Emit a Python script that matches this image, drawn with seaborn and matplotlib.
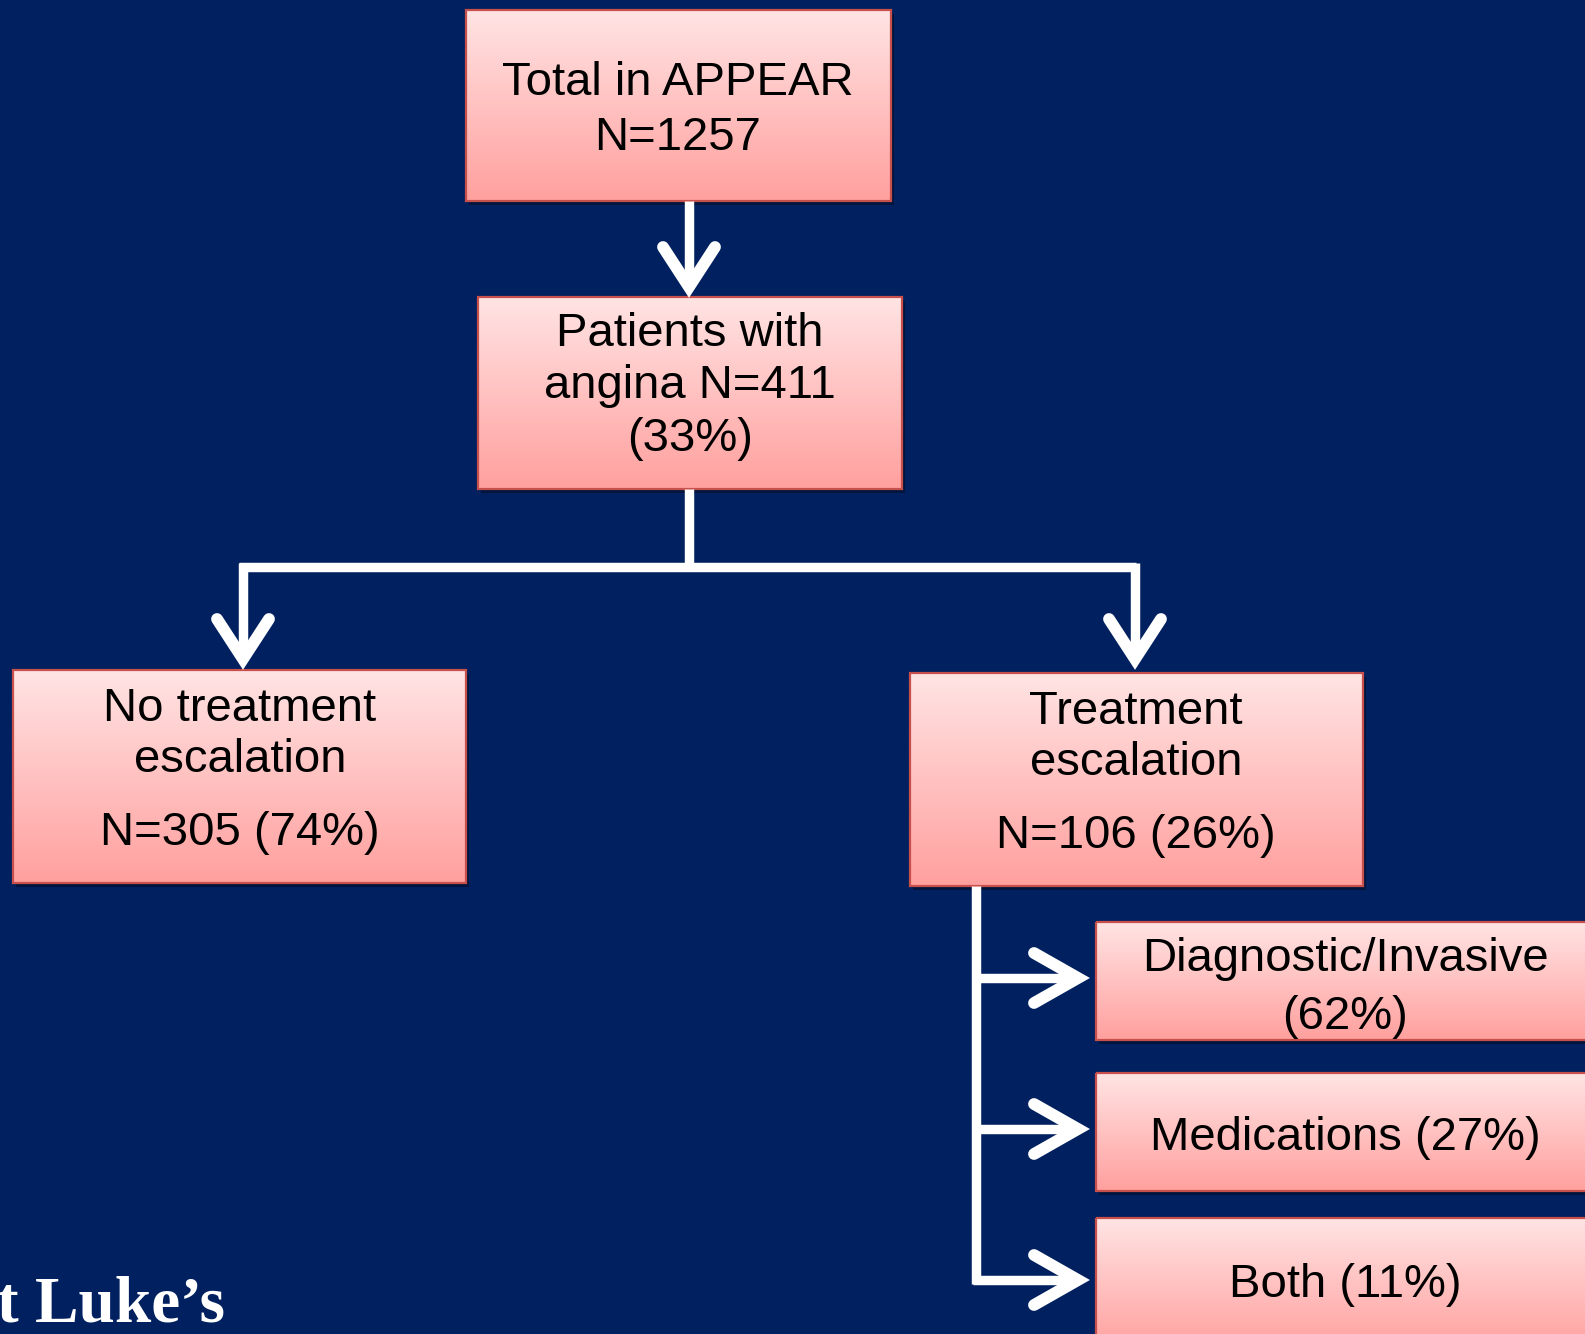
import numpy as np
import matplotlib
matplotlib.use("Agg")
import matplotlib.pyplot as plt
from matplotlib.patches import Rectangle
import seaborn as sns

sns.set_theme(style="white")
plt.rcParams["font.family"] = ["Liberation Sans", "DejaVu Sans"]

# Flow stages: label lines for each box
stage_names = ["total", "angina", "no_escalation", "escalation",
               "diagnostic", "medications", "both"]
stage_lines = [
    ["Total in APPEAR", "N=1257"],
    ["Patients with", "angina N=411", "(33%)"],
    ["No treatment", "escalation", "N=305 (74%)"],
    ["Treatment", "escalation", "N=106 (26%)"],
    ["Diagnostic/Invasive", "(62%)"],
    ["Medications (27%)"],
    ["Both (11%)"],
]

# Box geometry in canvas pixels: left, top, right, bottom
box_left = [466, 478, 13, 910, 1096, 1096, 1096]
box_top = [10, 297, 670, 673, 922, 1073, 1218]
box_right = [891, 902, 466, 1363, 1600, 1600, 1600]
box_bottom = [201, 489, 883, 886, 1040, 1191, 1350]
# Vertical centres of each text line
line_y = [
    [83, 138],
    [334, 386, 439],
    [709, 760, 833],
    [712, 763, 836],
    [959, 1017],
    [1138],
    [1285],
]
text_x = [678, 690, 240, 1136, 1345, 1345, 1345]

BG = "#00205F"
TOP = np.array([255, 228, 228]) / 255
BOT = np.array([255, 160, 158]) / 255
EDGE = "#C8504C"
W, H = 1585, 1334

fig = plt.figure(figsize=(W / 100, H / 100), dpi=100, facecolor=BG)
ax = fig.add_axes([0, 0, 1, 1])
ax.set_facecolor(BG)
ax.set_xlim(0, W)
ax.set_ylim(H, 0)
ax.axis("off")

grad = np.linspace(0, 1, 256)[:, None, None]
grad_img = TOP[None, None, :] * (1 - grad) + BOT[None, None, :] * grad

for i in range(len(stage_names)):
    x0, y0, x1, y1 = box_left[i], box_top[i], box_right[i], box_bottom[i]
    # soft drop shadow
    ax.add_patch(Rectangle((x0 + 3, y0 + 4), x1 - x0, y1 - y0,
                           facecolor="black", alpha=0.35, edgecolor="none",
                           zorder=1))
    ax.imshow(grad_img, extent=(x0, x1, y1, y0), origin="upper",
              aspect="auto", zorder=2, interpolation="bilinear")
    ax.add_patch(Rectangle((x0, y0), x1 - x0, y1 - y0, facecolor="none",
                           edgecolor=EDGE, linewidth=1.6, zorder=3))
    for txt, yy in zip(stage_lines[i], line_y[i]):
        ax.text(text_x[i], yy, txt, ha="center", va="center",
                fontsize=34, color="black", zorder=4)

ax.set_xlim(0, W)
ax.set_ylim(H, 0)

LW_STEM = 6.8
LW_HEAD = 8.5


def seg(xs, ys):
    ax.plot(xs, ys, color="white", linewidth=LW_STEM,
            solid_capstyle="butt", zorder=5)


def chevron_down(x, tip_y, half=26, depth=46):
    ax.plot([x - half, x, x + half], [tip_y - depth, tip_y - 6, tip_y - depth],
            color="white", linewidth=LW_HEAD, solid_capstyle="round",
            solid_joinstyle="miter", zorder=6)


def chevron_right(tip_x, y, half=25, depth=50):
    ax.plot([tip_x - depth, tip_x - 6, tip_x - depth], [y - half, y, y + half],
            color="white", linewidth=LW_HEAD, solid_capstyle="round",
            solid_joinstyle="miter", zorder=6)


# Total -> angina
seg([689, 689], [201, 288])
chevron_down(689, 293)

# Angina -> split
seg([689, 689], [489, 567])
seg([239, 1136], [567, 567])
seg([243, 243], [563, 660])
chevron_down(243, 665)
seg([1135, 1135], [563, 660])
chevron_down(1135, 665)

# Escalation -> subtypes
seg([976, 976], [886, 1284])
for yy in [978, 1129, 1280]:
    seg([973, 1078], [yy, yy])
    chevron_right(1084, yy)

# Institution wordmark
ax.text(-3, 1322, "t Luke\u2019s", ha="left", va="baseline",
        fontsize=47, color="white", fontweight="bold",
        family=["Liberation Serif", "DejaVu Serif"], zorder=7)

fig.savefig("out.png", dpi=100, facecolor=BG)
